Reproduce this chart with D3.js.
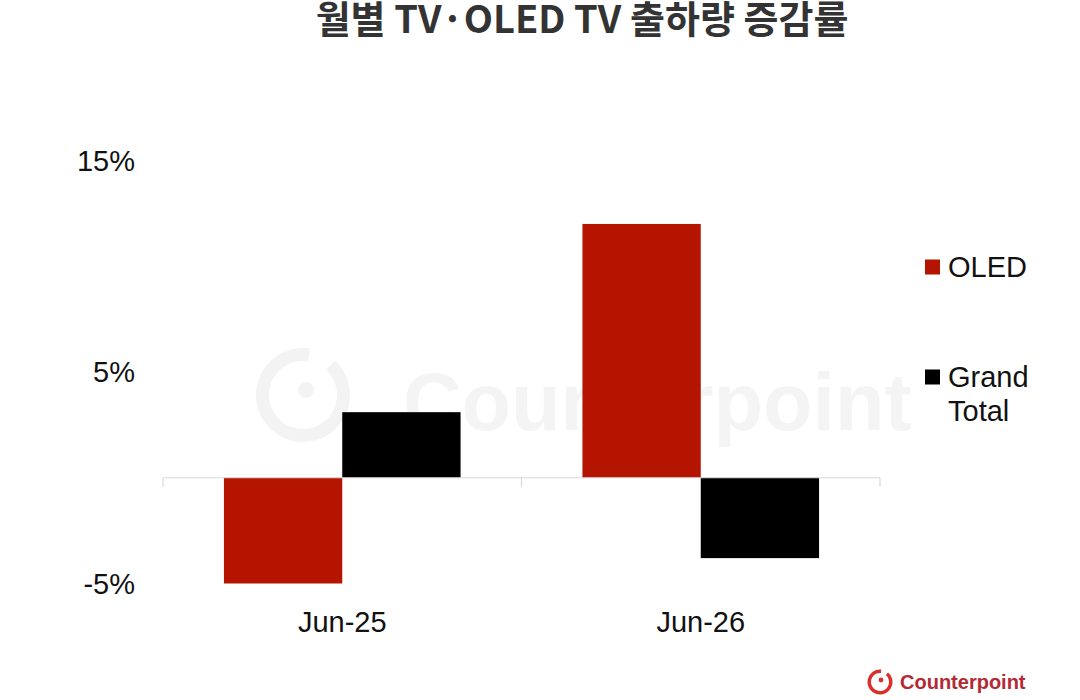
<!DOCTYPE html>
<html>
<head>
<meta charset="utf-8">
<script src="https://cdn.jsdelivr.net/npm/d3@7/dist/d3.min.js"></script>
<style>
  html, body { margin: 0; padding: 0; background: #ffffff; }
  svg { display: block; }
</style>
</head>
<body>
<svg id="chart" width="1080" height="700"></svg>
<script>
// ---- data ----
const titleText = "월별 TV·OLED TV 출하량 증감률";
const categories = ["Jun-25", "Jun-26"];
const seriesNames = ["OLED", "Grand Total"];
const oledValues = [-5.0, 12.0];
const grandTotalValues = [3.1, -3.8];
const yTickValues = [-5, 5, 15];
const yTickLabels = ["-5%", "5%", "15%"];
const seriesColors = ["#b51500", "#000000"];

// ---- build ----
const svg = d3.select("#chart");
const FONT = "'Liberation Sans', Arial, sans-serif";

const rows = categories.map((c, i) => ({
  category: c,
  values: [
    { series: seriesNames[0], value: oledValues[i] },
    { series: seriesNames[1], value: grandTotalValues[i] }
  ]
}));

const plot = { left: 163, right: 880, top: 160.5, bottom: 583.5 };

const y = d3.scaleLinear().domain([-5, 15]).range([plot.bottom, plot.top]);
const x0 = d3.scaleBand().domain(categories).range([plot.left, plot.right]).paddingInner(0).paddingOuter(0);
const x1 = d3.scaleBand().domain(seriesNames).range([0, x0.bandwidth()]).paddingInner(0).paddingOuter(0.515);
const color = d3.scaleOrdinal().domain(seriesNames).range(seriesColors);

// watermark
const wm = svg.append("g").attr("class", "watermark");
wm.append("path")
  .attr("d", d3.arc()({ innerRadius: 34, outerRadius: 47, startAngle: 0.75, endAngle: 2 * Math.PI + 0.15 }))
  .attr("transform", "translate(303,395)")
  .attr("fill", "#f3f3f3");
wm.append("circle").attr("cx", 306).attr("cy", 390).attr("r", 8).attr("fill", "#f3f3f3");
wm.append("text")
  .attr("x", 403).attr("y", 430)
  .attr("font-family", FONT).attr("font-weight", 700).attr("font-size", 81)
  .attr("fill", "#f4f4f4")
  .text("Counterpoint");

// title
svg.append("text")
  .attr("x", 582).attr("y", 33)
  .attr("text-anchor", "middle")
  .attr("font-family", "'Noto Sans CJK KR', 'Noto Sans', sans-serif")
  .attr("font-weight", 700)
  .attr("font-size", 38)
  .attr("fill", "#333333")
  .text(titleText);

// y axis (labels only)
const yAxis = d3.axisLeft(y)
  .tickValues(yTickValues)
  .tickFormat((d, i) => yTickLabels[i])
  .tickSize(0)
  .tickPadding(0);
const gy = svg.append("g").attr("transform", "translate(135,0)").call(yAxis);
gy.select(".domain").remove();
gy.selectAll("text")
  .attr("font-family", FONT).attr("font-size", 29).attr("fill", "#111111")
  .attr("dy", "0.33em");

// bars
const groups = svg.append("g").selectAll("g")
  .data(rows).join("g")
  .attr("transform", d => `translate(${x0(d.category)},0)`);
groups.selectAll("rect")
  .data(d => d.values).join("rect")
  .attr("x", d => x1(d.series))
  .attr("width", x1.bandwidth())
  .attr("y", d => y(Math.max(0, d.value)))
  .attr("height", d => Math.abs(y(d.value) - y(0)))
  .attr("fill", d => color(d.series));

// zero axis line with boundary ticks
const axisColor = "#d9d9d9";
svg.append("line")
  .attr("x1", plot.left).attr("x2", plot.right)
  .attr("y1", y(0)).attr("y2", y(0))
  .attr("stroke", axisColor).attr("stroke-width", 1.2);
const boundaries = categories.map(c => x0(c)).concat([x0(categories[categories.length - 1]) + x0.bandwidth()]);
svg.append("g").selectAll("line").data(boundaries).join("line")
  .attr("x1", d => d).attr("x2", d => d)
  .attr("y1", y(0)).attr("y2", y(0) + 9)
  .attr("stroke", axisColor).attr("stroke-width", 1.2);

// x axis labels
const xAxis = d3.axisBottom(x0).tickSize(0).tickPadding(0);
const gx = svg.append("g").attr("transform", "translate(0,622)").call(xAxis);
gx.select(".domain").remove();
gx.selectAll("text")
  .attr("font-family", FONT).attr("font-size", 29).attr("fill", "#111111")
  .attr("dy", "0.35em");

// legend
const legendItems = [
  { name: seriesNames[0], lines: ["OLED"], y: 267 },
  { name: seriesNames[1], lines: ["Grand", "Total"], y: 377 }
];
const lg = svg.append("g");
legendItems.forEach(item => {
  lg.append("rect")
    .attr("x", 925).attr("y", item.y - 7.5)
    .attr("width", 15).attr("height", 15)
    .attr("fill", color(item.name));
  const t = lg.append("text")
    .attr("font-family", FONT).attr("font-size", 29).attr("fill", "#111111");
  item.lines.forEach((ln, j) => {
    t.append("tspan").attr("x", 948).attr("y", item.y + j * 33.5).attr("dy", "0.35em").text(ln);
  });
});

// logo bottom right
const logo = svg.append("g");
logo.append("path")
  .attr("d", d3.arc()({ innerRadius: 9, outerRadius: 12.5, startAngle: 0.7, endAngle: 2 * Math.PI + 0.1 }))
  .attr("transform", "translate(880,682)")
  .attr("fill", "#d9302c");
logo.append("circle").attr("cx", 881).attr("cy", 680).attr("r", 2.4).attr("fill", "#d9302c");
logo.append("text")
  .attr("x", 900).attr("y", 682).attr("dy", "0.35em")
  .attr("font-family", FONT).attr("font-weight", 700).attr("font-size", 20)
  .attr("fill", "#b32a34")
  .text("Counterpoint");
</script>
</body>
</html>
